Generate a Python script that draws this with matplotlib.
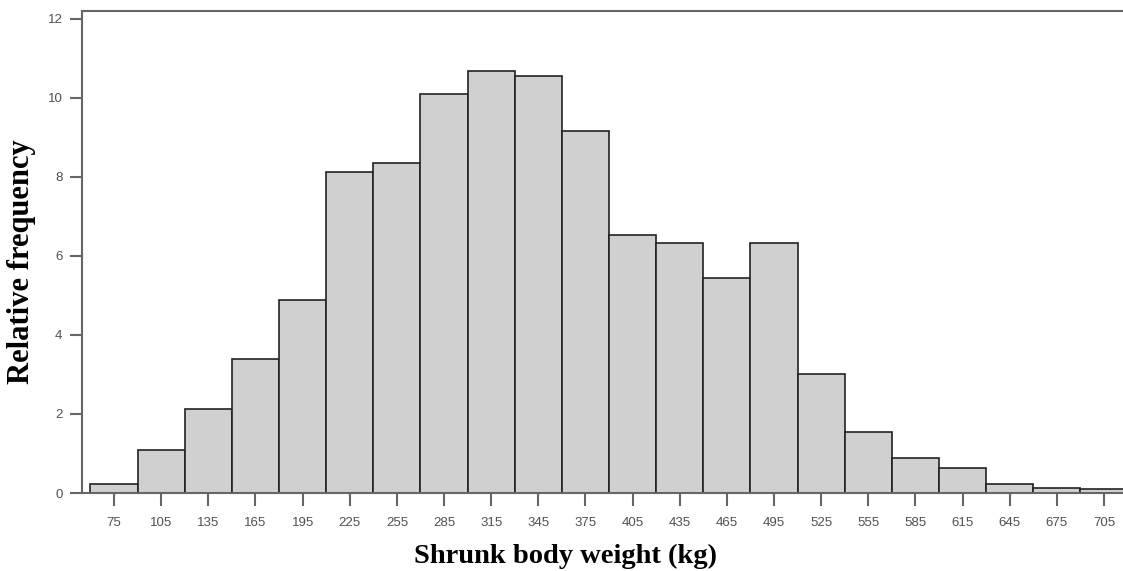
import numpy as np
import matplotlib.pyplot as plt

# bin centres (kg) and relative frequency (%)
centres = [75, 105, 135, 165, 195, 225, 255, 285, 315, 345, 375,
           405, 435, 465, 495, 525, 555, 585, 615, 645, 675, 705]
rel_freq = [0.24, 1.09, 2.12, 3.39, 4.89, 8.13, 8.35, 10.10, 10.68, 10.56, 9.16,
            6.53, 6.34, 5.44, 6.34, 3.01, 1.54, 0.88, 0.64, 0.24, 0.13, 0.10]
bin_width = 30
y_ticks = [0, 2, 4, 6, 8, 10, 12]

fig = plt.figure(figsize=(11.23, 5.71), dpi=100)
ax = fig.add_axes([82 / 1123, 1 - 493 / 571, (1130 - 82) / 1123, (493 - 11) / 571])

ax.bar(centres, rel_freq, width=bin_width, color='#d0d0d0',
       edgecolor='#222222', linewidth=1.2, zorder=2)

ax.set_xlim(54.6, 721.5)
ax.set_ylim(0, 12.2)
ax.set_xticks(centres)
ax.set_yticks(y_ticks)

tick_color = '#666666'
ax.tick_params(axis='both', direction='out', length=9, width=1.5,
               color=tick_color, labelcolor='#505050', labelsize=9.5)
ax.tick_params(axis='x', pad=8)
ax.tick_params(axis='y', pad=5)
for lbl in ax.get_xticklabels() + ax.get_yticklabels():
    lbl.set_fontfamily('Liberation Sans')

for side in ['left', 'top', 'bottom']:
    ax.spines[side].set_color(tick_color)
    ax.spines[side].set_linewidth(1.5)
ax.spines['right'].set_visible(False)

ax.set_xlabel('Shrunk body weight (kg)', fontfamily='Liberation Serif',
              fontweight='bold', fontsize=20.5)
ax.set_ylabel('Relative frequency', fontfamily='Liberation Serif',
              fontweight='bold', fontsize=22)
ax.xaxis.set_label_coords((566 - 82) / (1130 - 82), -(544 - 493) / (493 - 11))
ax.yaxis.set_label_coords(-(82 - 36) / (1130 - 82), (493 - 262) / (493 - 11))

fig.savefig('out.png', dpi=100)
